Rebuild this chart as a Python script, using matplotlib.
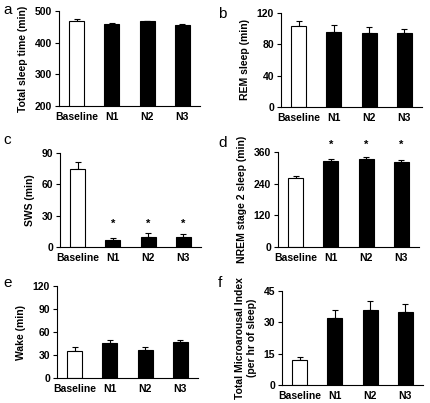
import numpy as np
import matplotlib.pyplot as plt

plt.rcParams['font.family'] = ['Liberation Sans', 'DejaVu Sans']

groups = ['Baseline', 'N1', 'N2', 'N3']

total_sleep = [468, 458, 467, 455]
total_sleep_err = [7, 3, 3, 3]
rem = [104, 96, 95, 94]
rem_err = [6, 9, 7, 6]
sws = [75, 7, 10, 10]
sws_err = [6, 2, 3, 2]
nrem2 = [260, 325, 335, 322]
nrem2_err = [10, 7, 5, 6]
wake = [35, 46, 37, 47]
wake_err = [5, 4, 3, 3]
micro = [12, 32, 36, 35]
micro_err = [1.5, 4, 4, 4]

panels = [
    # letter, values, errors, ylabel, ylim, yticks, star height, axes box (l, r, top, bottom px), letter pos
    ('a', total_sleep, total_sleep_err, 'Total sleep time (min)', (200, 500), [200, 300, 400, 500], None, (59, 200, 11, 106), (3, 10)),
    ('b', rem, rem_err, 'REM sleep (min)', (0, 120), [0, 40, 80, 120], None, (281, 422, 13, 107), (218, 14)),
    ('c', sws, sws_err, 'SWS (min)', (0, 90), [0, 30, 60, 90], 22, (60, 201, 153, 247), (3, 140)),
    ('d', nrem2, nrem2_err, 'NREM stage 2 sleep (min)', (0, 360), [0, 120, 240, 360], 388, (278, 419, 152, 247), (218, 143)),
    ('e', wake, wake_err, 'Wake (min)', (0, 120), [0, 30, 60, 90, 120], None, (57, 198, 286, 378), (3, 283)),
    ('f', micro, micro_err, 'Total Microarousal Index\n(per hr of sleep)', (0, 45), [0, 15, 30, 45], None, (282, 423, 291, 385), (218, 283)),
]

W, H = 431, 403
fig = plt.figure(figsize=(W / 100, H / 100), dpi=100)

x = np.arange(len(groups))
colors = ['white', 'black', 'black', 'black']

for letter, vals, errs, ylabel, ylim, yticks, star_y, (l, r, t, b), (lx, ly) in panels:
    ax = fig.add_axes([l / W, 1 - b / H, (r - l) / W, (b - t) / H])
    ax.bar(x, vals, width=0.43, color=colors, edgecolor='black', linewidth=0.8, zorder=2)
    ax.errorbar(x, vals, yerr=[np.zeros(len(errs)), errs], fmt='none', ecolor='black',
                elinewidth=0.8, capsize=2.5, capthick=0.8, zorder=1)
    ax.set_xlim(-0.5, 3.5)
    ax.set_ylim(*ylim)
    ax.set_yticks(yticks)
    ax.set_xticks(x)
    ax.set_xticklabels(groups)
    ax.spines['top'].set_visible(False)
    ax.spines['right'].set_visible(False)
    ax.tick_params(axis='x', length=0, pad=4)
    ax.tick_params(axis='y', length=3, width=0.8, direction='out', pad=2)
    for lab in ax.get_xticklabels() + ax.get_yticklabels():
        lab.set_fontsize(7.5)
        lab.set_fontweight('bold')
    ax.set_ylabel(ylabel, fontsize=7.5, fontweight='bold', labelpad=5)
    if star_y is not None:
        for xi in x[1:]:
            ax.text(xi, star_y, '*', ha='center', va='center', fontsize=8,
                    fontweight='bold', clip_on=False)
    fig.text(lx / W, 1 - ly / H, letter, fontsize=11, ha='left', va='center')

fig.savefig('out.png', dpi=100)
